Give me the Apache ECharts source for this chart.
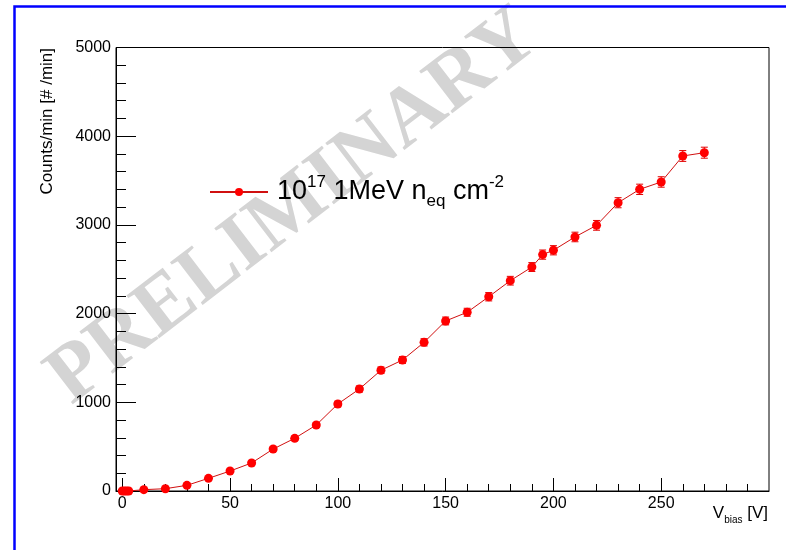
<!DOCTYPE html>
<html>
<head>
<meta charset="utf-8">
<script src="https://cdn.jsdelivr.net/npm/echarts@6/dist/echarts.min.js"></script>
<style>
html,body{margin:0;padding:0;background:#fff;}
#c{width:786px;height:550px;}
</style>
</head>
<body>
<div id="c"></div>
<script>
// Data
const vbias  = [0, 1, 2, 3, 10, 20, 30, 40, 50, 60, 70, 80, 90, 100, 110, 120, 130, 140, 150, 160, 170, 180, 190, 195, 200, 210, 220, 230, 240, 250, 260, 270];
const counts = [0, 0, 0, 0, 15, 26, 64, 143, 225, 316, 473, 594, 744, 981, 1150, 1361, 1477, 1676, 1917, 2015, 2190, 2371, 2525, 2665, 2714, 2864, 2995, 3250, 3401, 3484, 3777, 3814];
const errors = [0, 0, 0, 0, 4, 5, 8, 12, 15, 18, 22, 24, 27, 31, 34, 37, 38, 41, 44, 45, 47, 49, 50, 52, 52, 54, 55, 57, 58, 59, 61, 62];
const xMajorTicks = [0, 50, 100, 150, 200, 250];
const xMinorTicks = [10, 20, 30, 40, 60, 70, 80, 90, 110, 120, 130, 140, 160, 170, 180, 190, 210, 220, 230, 240, 260, 270, 280, 290];
const seriesName = '1e17';

const pts = vbias.map((v, i) => [v, counts[i]]);
const errPts = vbias.map((v, i) => [v, counts[i], errors[i]]);

const FONT = '"Liberation Sans", Arial, Helvetica, sans-serif';
const chart = echarts.init(document.getElementById('c'), null, {renderer: 'canvas'});

chart.setOption({
  animation: false,
  backgroundColor: '#ffffff',
  grid: {left: 116, right: 17, top: 47.5, bottom: 59, show: true, borderColor: '#000', borderWidth: 1, backgroundColor: 'transparent', z: 3},
  xAxis: [{
    type: 'value', min: -2.9, max: 300, position: 'bottom', z: 3,
    axisLine: {show: true, onZero: false, lineStyle: {color: '#000', width: 1}},
    axisTick: {show: true, inside: true, length: 13, customValues: xMajorTicks, lineStyle: {color: '#000'}},
    axisLabel: {show: true, customValues: xMajorTicks, color: '#000', fontSize: 16, fontFamily: FONT, margin: 5},
    splitLine: {show: false}
  }, {
    type: 'value', min: -2.9, max: 300, position: 'bottom', z: 3,
    axisLine: {show: false},
    axisTick: {show: true, inside: true, length: 7, customValues: xMinorTicks, lineStyle: {color: '#000'}},
    axisLabel: {show: false},
    splitLine: {show: false}
  }],
  yAxis: {
    type: 'value', min: 0, max: 5000, interval: 1000, z: 3,
    axisLine: {show: true, onZero: false, lineStyle: {color: '#000', width: 1}},
    axisTick: {show: true, inside: true, length: 20, lineStyle: {color: '#000'}},
    minorTick: {show: true, splitNumber: 5, length: 10, lineStyle: {color: '#000'}},
    axisLabel: {color: '#000', fontSize: 16, fontFamily: FONT, margin: 5, formatter: v => String(v)},
    splitLine: {show: false}
  },
  legend: {
    show: true, left: 204, top: 169, itemWidth: 58, itemHeight: 10, z: 6,
    data: [seriesName],
    formatter: function () {
      return '{p| }{a|10}{sup|17}{a| 1MeV n}{sub|eq}{a| cm}{sup|-2}';
    },
    textStyle: {
      color: '#000', fontFamily: FONT,
      rich: {
        p: {width: 4, fontSize: 27, lineHeight: 36},
        a: {fontSize: 27, lineHeight: 36, fontFamily: FONT, color: '#000'},
        sup: {fontSize: 17, lineHeight: 22, verticalAlign: 'top', fontFamily: FONT, color: '#000'},
        sub: {fontSize: 17, lineHeight: 22, verticalAlign: 'bottom', fontFamily: FONT, color: '#000'}
      }
    }
  },
  graphic: [
    {type: 'text', z: 0, zlevel: 0, x: 294, y: 208, rotation: 37.5 * Math.PI / 180,
     style: {text: 'PRELIMINARY', font: 'bold 82px "Liberation Serif", "Times New Roman", serif', fill: '#d4d4d4', align: 'center', verticalAlign: 'middle'}},
    {type: 'rect', z: 100, silent: true, shape: {x: 14.5, y: 6.5, width: 900, height: 700},
     style: {fill: 'none', stroke: '#0000ff', lineWidth: 2.5}},
    {type: 'text', z: 50, x: 47, y: 48, rotation: Math.PI / 2,
     style: {text: 'Counts/min [# /min]', font: '17px ' + FONT, fill: '#000', align: 'right', verticalAlign: 'middle'}},
    {type: 'text', z: 50, x: 768, y: 525,
     style: {text: '{a|V}{s|bias}{a| [V]}', align: 'right', verticalAlign: 'bottom',
       rich: {a: {fontSize: 17, fontFamily: FONT, fill: '#000', lineHeight: 20, verticalAlign: 'top'},
              s: {fontSize: 10, fontFamily: FONT, fill: '#000', lineHeight: 12, verticalAlign: 'bottom'}}}}
  ],
  series: [
    {
      name: seriesName, type: 'line', data: pts, xAxisIndex: 0, yAxisIndex: 0, z: 5,
      symbol: 'circle', symbolSize: 9, showSymbol: true,
      lineStyle: {color: '#d01010', width: 1},
      itemStyle: {color: '#ff0000'},
      emphasis: {disabled: true}
    },
    {
      name: 'err', type: 'custom', data: errPts, xAxisIndex: 0, yAxisIndex: 0, z: 4,
      renderItem: function (params, api) {
        const x = api.value(0), y = api.value(1), e = api.value(2);
        if (!e) return null;
        const t = api.coord([x, y + e]);
        const b = api.coord([x, y - e]);
        const w = 3.5;
        const st = {stroke: '#e00000', lineWidth: 1};
        return {type: 'group', children: [
          {type: 'line', shape: {x1: t[0], y1: t[1], x2: b[0], y2: b[1]}, style: st},
          {type: 'line', shape: {x1: t[0] - w, y1: t[1], x2: t[0] + w, y2: t[1]}, style: st},
          {type: 'line', shape: {x1: b[0] - w, y1: b[1], x2: b[0] + w, y2: b[1]}, style: st}
        ]};
      }
    }
  ]
});
</script>
</body>
</html>
